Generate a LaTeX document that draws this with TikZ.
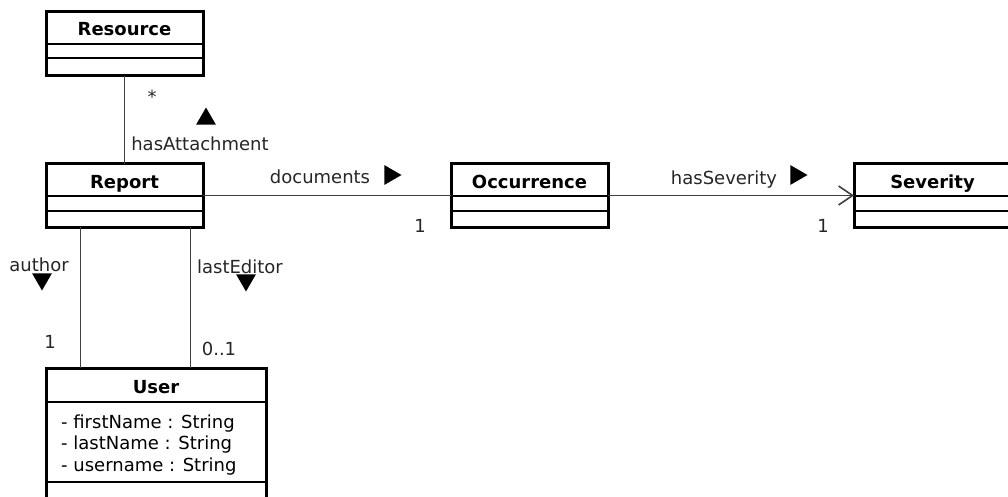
\documentclass[tikz,border=0pt]{standalone}
\usepackage{fontspec}
\setmainfont{DejaVu Sans}
\usetikzlibrary{positioning,shapes.geometric,arrows.meta}

\newcommand{\umlfont}{\fontsize{18}{21.5}\selectfont}

\tikzset{
  cls/.style={draw, line width=3pt, anchor=north west, inner sep=0pt, outer sep=0pt},
  clshead/.style={minimum height=32pt, inner sep=0pt, outer sep=0pt, text height=17pt, text depth=1pt, font=\umlfont\bfseries},
  sep/.style={line width=1.4pt},
  assoc/.style={line width=1.6pt, black!75},
  lbl/.style={inner sep=0pt, anchor=base, text=black!85},
  dirmark/.style={regular polygon, regular polygon sides=3, fill, minimum size=23pt, inner sep=0pt},
}

\begin{document}
\begin{tikzpicture}[x=1pt, y=-1pt, font=\umlfont]
\useasboundingbox (0,0) rectangle (1008,497);

% classes
\node[cls, minimum width=157pt, minimum height=64pt] (resource) at (46,12) {};
\node[clshead, minimum width=157pt, below=0pt of resource.north] (resourcehead) {Resource};
\draw[sep] (resourcehead.south west) -- (resourcehead.south east);
\draw[sep] ([yshift=-14pt]resourcehead.south west) -- ([yshift=-14pt]resourcehead.south east);

\node[cls, minimum width=157pt, minimum height=63pt] (report) at (46,164) {};
\node[clshead, minimum width=157pt, below=0pt of report.north] (reporthead) {Report};
\draw[sep] (reporthead.south west) -- (reporthead.south east);
\draw[sep] ([yshift=-15pt]reporthead.south west) -- ([yshift=-15pt]reporthead.south east);

\node[cls, minimum width=157pt, minimum height=63pt] (occurrence) at (451,164) {};
\node[clshead, minimum width=157pt, below=0pt of occurrence.north] (occurrencehead) {Occurrence};
\draw[sep] (occurrencehead.south west) -- (occurrencehead.south east);
\draw[sep] ([yshift=-15pt]occurrencehead.south west) -- ([yshift=-15pt]occurrencehead.south east);

\node[cls, minimum width=157pt, minimum height=63pt] (severity) at (854,164) {};
\node[clshead, minimum width=157pt, below=0pt of severity.north] (severityhead) {Severity};
\draw[sep] (severityhead.south west) -- (severityhead.south east);
\draw[sep] ([yshift=-15pt]severityhead.south west) -- ([yshift=-15pt]severityhead.south east);

\node[cls, minimum width=220pt, minimum height=160pt] (user) at (46,368) {};
\node[clshead, minimum width=220pt, minimum height=34pt, below=0pt of user.north] (userhead) {User};
\draw[sep] (userhead.south west) -- (userhead.south east);
\node[lbl, anchor=base west, align=left, text=black] (userattrs) at (61,471)
  {- firstName : String\\- lastName : String\\- username : String};
\draw[sep] ([yshift=-80pt]userhead.south west) -- ([yshift=-80pt]userhead.south east);

% associations
\draw[assoc] (resource) -- (report);
\draw[assoc] (report) -- (occurrence);
\draw[assoc, -{Straight Barb[length=14pt, width=19pt]}] (occurrence) -- (severity);
\draw[assoc] ([xshift=-44pt]report.south) -- ([xshift=-44pt]report.south |- user.north);
\draw[assoc] ([xshift=66pt]report.south) -- ([xshift=66pt]report.south |- user.north);

% labels
\node[lbl] (attachmult) at (152,104) {*};
\node[lbl] (attachname) at (200,150) {hasAttachment};
\node[dirmark] (attachdir) at (206,119) {};

\node[lbl] (docname) at (320,183) {documents};
\node[dirmark, shape border rotate=-90] (docdir) at (390,175) {};
\node[lbl] (docmult) at (420,232) {1};

\node[lbl] (sevname) at (724,184) {hasSeverity};
\node[dirmark, shape border rotate=-90] (sevdir) at (796,175) {};
\node[lbl] (sevmult) at (823,232) {1};

\node[lbl] (authorname) at (39,271) {author};
\node[dirmark, shape border rotate=180] (authordir) at (42,279) {};
\node[lbl] (authormult) at (50,348) {1};

\node[lbl] (editorname) at (240,273) {lastEditor};
\node[dirmark, shape border rotate=180] (editordir) at (246,280) {};
\node[lbl] (editormult) at (219,355) {0..1};
\end{tikzpicture}
\end{document}
